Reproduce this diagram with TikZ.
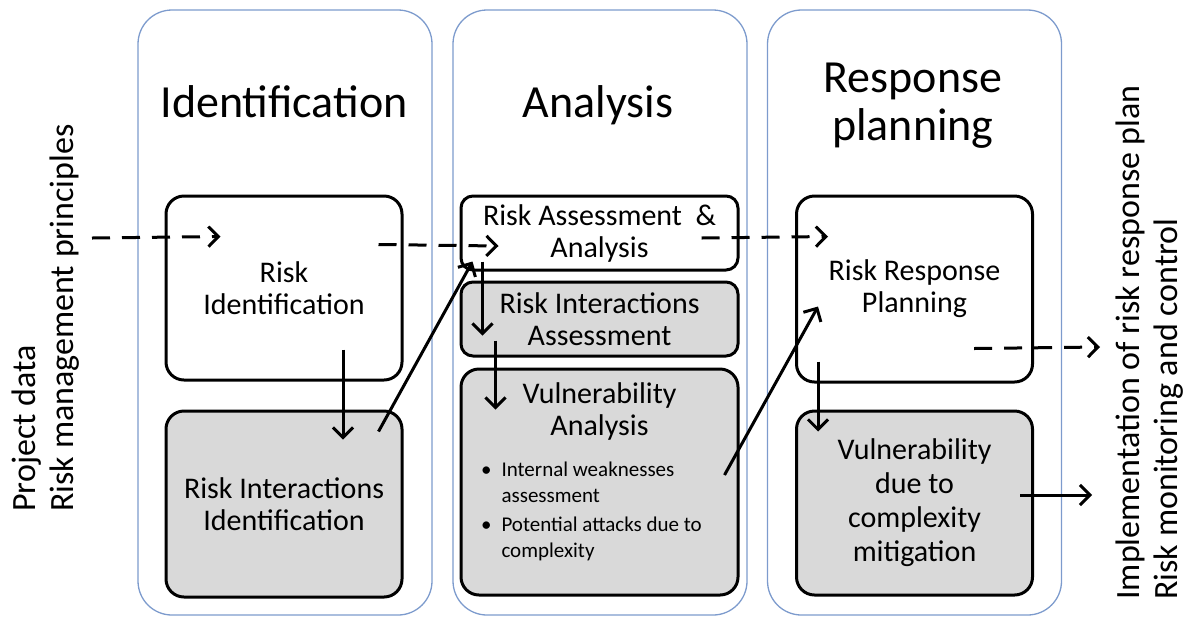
\documentclass[tikz,border=0pt]{standalone}
\usepackage{fontspec}
\setmainfont{Carlito}
\usepackage{tikz}
\usetikzlibrary{arrows.meta}
\usetikzlibrary{positioning,calc}
\definecolor{colblue}{RGB}{125,155,205}
\definecolor{boxgray}{RGB}{217,217,217}

\begin{document}
\begin{tikzpicture}[x=0.5pt, y=-0.5pt, font=\fontsize{15}{16}\selectfont,
            col/.style={draw=colblue, line width=0.65pt, rounded corners=17pt, minimum width=147pt, minimum height=302.5pt},
            box/.style={draw, line width=1.5pt, rounded corners=9pt, align=center, inner sep=0pt},
            gbox/.style={box, fill=boxgray},
            flow/.style={line width=1.5pt, -{Straight Barb[length=5pt, width=10pt]}},
            dflow/.style={flow, dash pattern=on 9pt off 6pt},
            title/.style={font=\fontsize{23}{24}\selectfont, align=center},
            side/.style={rotate=90, anchor=west, align=left, inner sep=0pt, font=\fontsize{17}{19}\selectfont}]
            \useasboundingbox (0,0) rectangle (1197,628);
            % stage columns
            \node[col] (colid) at (285,312.5) {};
            \node[col] (colan) at (600,312.5) {};
            \node[col] (colre) at (914.5,312.5) {};
            \node[title, anchor=base] (idt) at (284,117) {Identification};
            \node[title, anchor=base] (ant) at (598,117) {Analysis};
            \node[title] (ret) at (913,106) {Response\\planning};
            % boxes
            \node[box, minimum width=118pt, minimum height=92pt] (riskid) at (284,288) {Risk\\Identification};
            \node[gbox, minimum width=118pt, minimum height=93pt, below=14pt of riskid] (riskint) {Risk Interactions\\Identification};
            \node[box, rounded corners=6pt, minimum width=138.5pt, minimum height=37pt] (assess) at (599.5,233) {Risk Assessment\ \ \&\\Analysis};
            \node[gbox, rounded corners=6pt, minimum width=138.5pt, minimum height=37pt, below=4.5pt of assess] (intassess) {Risk Interactions\\Assessment};
            \node[gbox, minimum width=138.5pt, minimum height=113pt, below=5pt of intassess] (vuln) {};
            \node[align=center] (vulnt) at ($(vuln.north)+(0,44)$) {Vulnerability\\Analysis};
            \node[anchor=west, align=left, font=\fontsize{10.5}{13}\selectfont] (vulnl) at (474,511)
                {\textbullet\hspace{5pt}Internal weaknesses\\\hphantom{\textbullet\hspace{5pt}}assessment\\[1.5pt]
                 \textbullet\hspace{5pt}Potential attacks due to\\\hphantom{\textbullet\hspace{5pt}}complexity};
            \node[box, minimum width=118pt, minimum height=93pt] (resp) at (914.5,289) {Risk Response\\Planning};
            \node[gbox, minimum width=118pt, minimum height=92pt, below=13pt of resp, font=\fontsize{15}{17}\selectfont] (mitig) {Vulnerability\\due to\\complexity\\mitigation};
            % inputs and outputs
            \node[side] (inputs) at (46,512) {Project data\\Risk management principles};
            \node[side] (outputs) at (1150,600) {Implementation of risk response plan\\Risk monitoring and control};
            \coordinate (pin) at (92,238);
            \coordinate (pout) at (1100,347);
            \coordinate (mout) at ($(mitig.east)+(58,-8)$);
            % connectors
            \draw[dflow] (pin) -- ($(riskid.north west)+(56,42)$);
            \draw[dflow] ($(riskid.north east)+(-25,50)$) -- ($(assess.west)+(39,13)$);
            \draw[dflow] ($(assess.east)+(-38,5)$) -- ($(resp.north west)+(33,42)$);
            \draw[dflow] ($(resp.south east)+(-60,-35)$) -- (pout);
            \draw[flow] ($(riskid.south)+(59,-32)$) -- ($(riskint.north)+(59,30)$);
            \draw[flow] ($(riskint.north east)+(-25,22)$) -- ($(assess.south west)+(13,-10)$);
            \draw[flow] ($(assess.south west)+(23,-10)$) -- ($(intassess.south west)+(23,-22)$);
            \draw[flow] ($(intassess.south west)+(36,-17)$) -- ($(vuln.north west)+(36,42)$);
            \draw[flow] ($(vuln.east)+(-15,-7)$) -- ($(resp.south west)+(23,-77)$);
            \draw[flow] ($(resp.south west)+(23,-22)$) -- ($(mitig.north west)+(23,22)$);
            \draw[flow] ($(mitig.east)+(-14,-8)$) -- (mout);
        \end{tikzpicture}
\end{document}
